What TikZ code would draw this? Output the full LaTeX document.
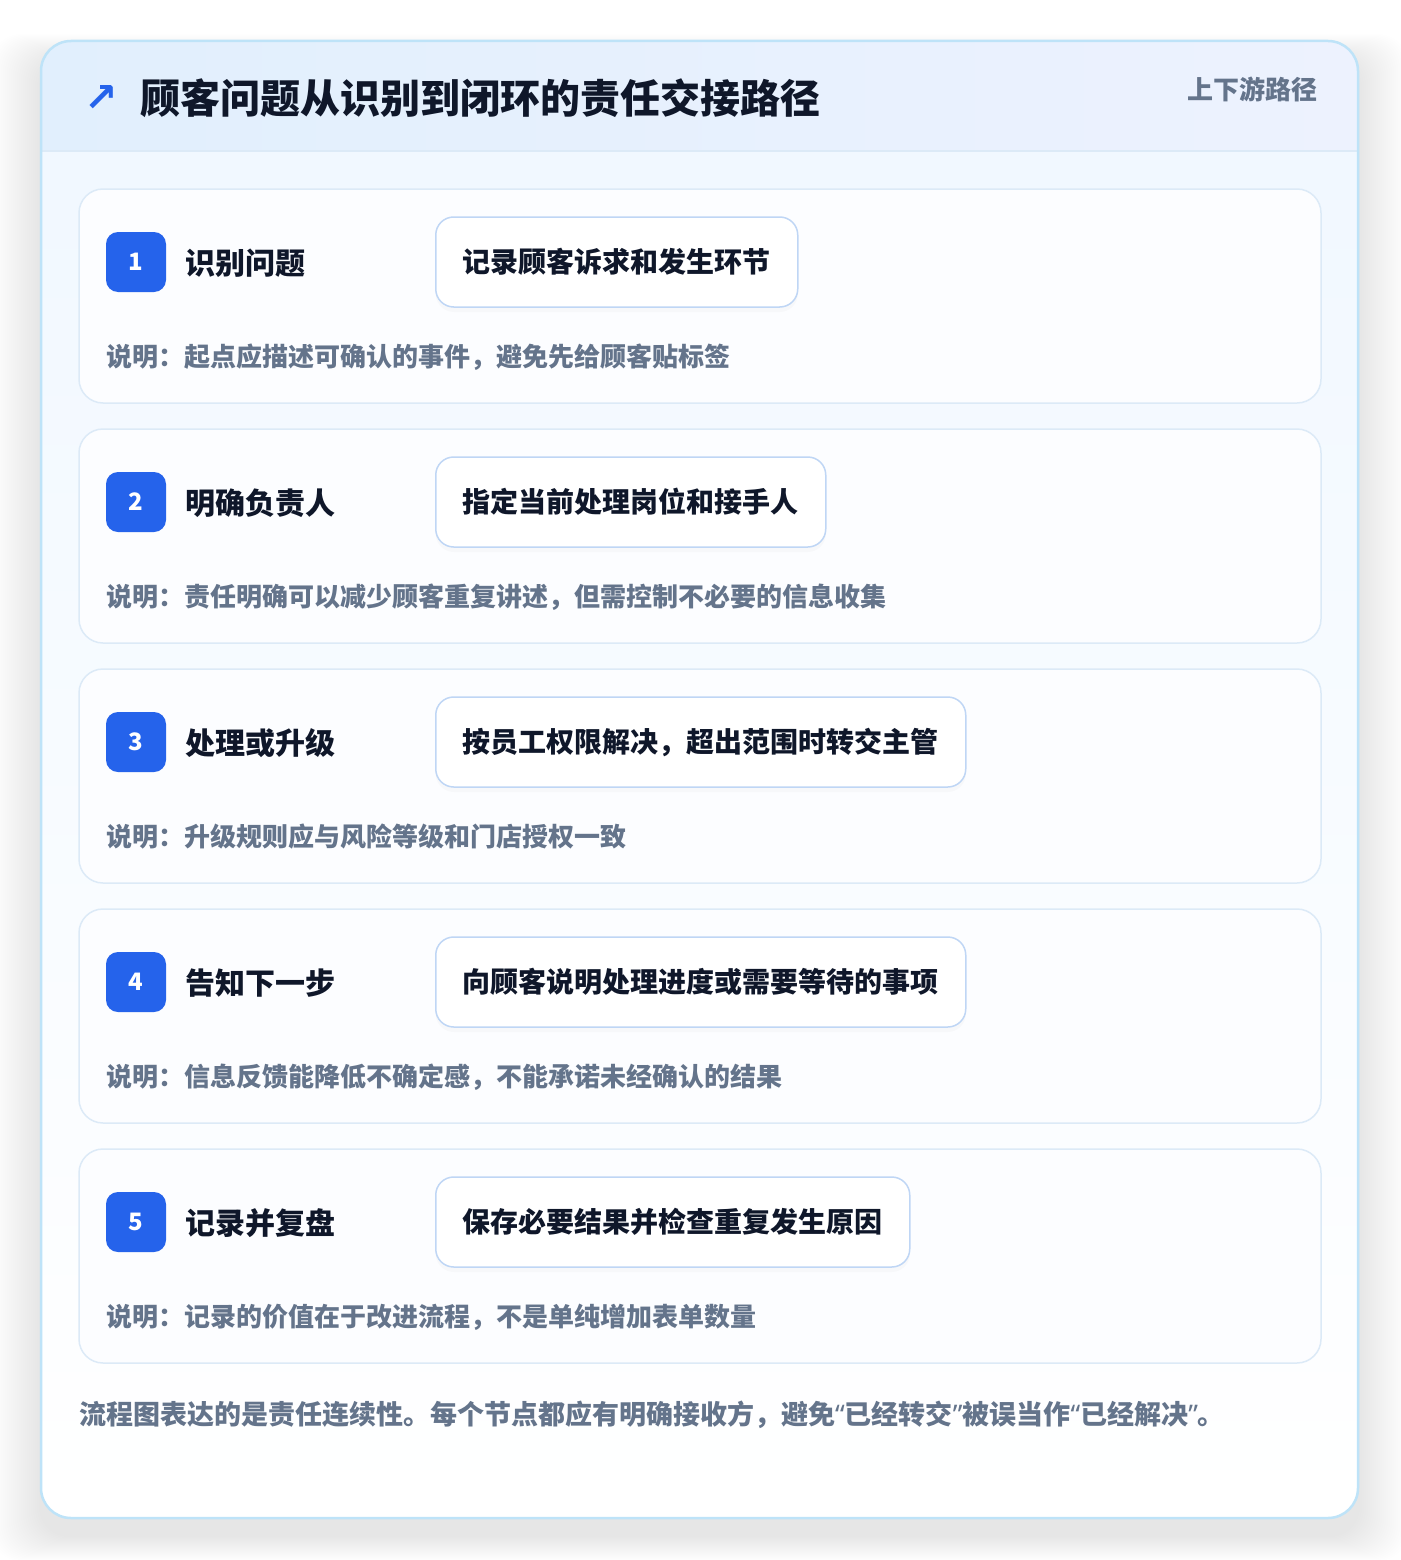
\documentclass[tikz,border=0pt]{standalone}
\usepackage{fontspec}
\usepackage{xcolor}
\usepackage{tikz}
\usetikzlibrary{positioning,shadows,backgrounds}
\newfontfamily\cjk{Noto Sans CJK SC}
\newfontfamily\symfont{DejaVu Sans}
\newfontfamily\latinfont{Noto Sans}
\definecolor{inkdark}{HTML}{0F172A}
\definecolor{notegray}{HTML}{64748B}
\definecolor{badgeblue}{HTML}{2563EB}
\definecolor{cardline}{HTML}{DCEAF7}
\definecolor{cardfill}{HTML}{FCFDFF}
\definecolor{boxline}{HTML}{BFD6F5}
\definecolor{frameline}{HTML}{BEE3F8}
\definecolor{headleft}{HTML}{E1EFFD}
\definecolor{headright}{HTML}{EDF2FE}
\definecolor{bodytop}{HTML}{F1F8FF}
\newcommand{\fsz}[1]{\cjk\bfseries\fontsize{#1}{#1}\selectfont}
\newcommand{\openq}{{\latinfont\bfseries “}}
\newcommand{\closeq}{{\latinfont\bfseries ”}}

\begin{document}
\begin{tikzpicture}[x=1pt,y=-1pt,
  stepcard/.style={draw=cardline, line width=1.5pt, fill=cardfill, rounded corners=24pt, minimum width=1242pt, minimum height=214pt},
  badge/.style={fill=badgeblue, rounded corners=12pt, minimum size=60pt, inner sep=0pt, text=white, font=\fsz{24}},
  steptitle/.style={anchor=west, inner sep=0pt, text=inkdark, font=\fsz{30}},
  actionbox/.style={anchor=west, draw=boxline, line width=1.5pt, fill=white, rounded corners=18pt, minimum height=90pt, inner xsep=27pt, text=inkdark, font=\fsz{28}, drop shadow={opacity=0.035, shadow xshift=0pt, shadow yshift=-5pt}},
  note/.style={anchor=west, inner sep=0pt, text=notegray, font=\fsz{26}}]
  \useasboundingbox[fill=white] (0,0) rectangle (1400,1560);
  % soft shadow of the frame
  \foreach \s in {2,4,...,50}
    \fill[black, opacity=0.0032, rounded corners=30pt] (41-\s,41-\s/2+18) rectangle (1358+\s,1518+\s/2+18);
  \fill[white, rounded corners=30pt] (41,41) rectangle (1358,1518);
  \begin{scope}
    \clip[rounded corners=30pt] (41,41) rectangle (1358,1518);
    \shade[top color=bodytop, bottom color=white] (41,151) rectangle (1358,1518);
    \shade[left color=headleft, right color=headright] (41,41) rectangle (1358,151);
    \draw[line width=1.5pt, cardline] (41,151) -- (1358,151);
  \end{scope}
  \draw[line width=2.5pt, frameline, rounded corners=30pt] (41,41) rectangle (1358,1518);

  \node[text=badgeblue, inner sep=0pt, font=\symfont\bfseries\fontsize{40}{40}\selectfont] (icon) at (101,99) {↗};
  \node[anchor=west, inner sep=0pt, text=inkdark, font=\fsz{40}] (title) at (140,98) {顾客问题从识别到闭环的责任交接路径};
  \node[anchor=east, inner sep=0pt, text=notegray, font=\fsz{26}] (tag) at (1318,89) {上下游路径};

  \node[stepcard] (card1) at (700,296) {};
  \node[badge] (num1) at (136,262) {1};
  \node[steptitle] (head1) at (185,263) {识别问题};
  \node[actionbox] (act1) at (435,262) {记录顾客诉求和发生环节};
  \node[note] (note1) at (106,357) {说明：起点应描述可确认的事件，避免先给顾客贴标签};

  \node[stepcard] (card2) at (700,536) {};
  \node[badge] (num2) at (136,502) {2};
  \node[steptitle] (head2) at (185,503) {明确负责人};
  \node[actionbox] (act2) at (435,502) {指定当前处理岗位和接手人};
  \node[note] (note2) at (106,597) {说明：责任明确可以减少顾客重复讲述，但需控制不必要的信息收集};

  \node[stepcard] (card3) at (700,776) {};
  \node[badge] (num3) at (136,742) {3};
  \node[steptitle] (head3) at (185,743) {处理或升级};
  \node[actionbox] (act3) at (435,742) {按员工权限解决，超出范围时转交主管};
  \node[note] (note3) at (106,837) {说明：升级规则应与风险等级和门店授权一致};

  \node[stepcard] (card4) at (700,1016) {};
  \node[badge] (num4) at (136,982) {4};
  \node[steptitle] (head4) at (185,983) {告知下一步};
  \node[actionbox] (act4) at (435,982) {向顾客说明处理进度或需要等待的事项};
  \node[note] (note4) at (106,1077) {说明：信息反馈能降低不确定感，不能承诺未经确认的结果};

  \node[stepcard] (card5) at (700,1256) {};
  \node[badge] (num5) at (136,1222) {5};
  \node[steptitle] (head5) at (185,1223) {记录并复盘};
  \node[actionbox] (act5) at (435,1222) {保存必要结果并检查重复发生原因};
  \node[note] (note5) at (106,1317) {说明：记录的价值在于改进流程，不是单纯增加表单数量};

  \node[note, font=\fsz{27}] (summary) at (79,1415) {流程图表达的是责任连续性。每个节点都应有明确接收方，避免\openq 已经转交\closeq 被误当作\openq 已经解决\closeq 。};
\end{tikzpicture}
\end{document}
